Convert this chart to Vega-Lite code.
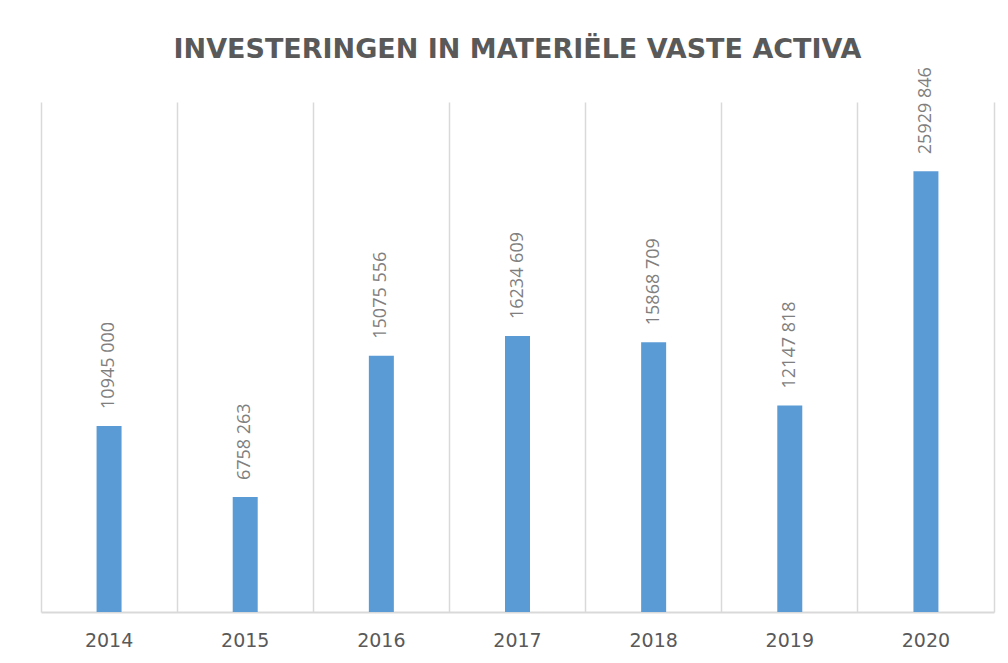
{
  "$schema": "https://vega.github.io/schema/vega-lite/v6.json",
  "width": 953,
  "height": 510,
  "autosize": {"type": "none"},
  "padding": {"left": 41, "top": 102, "right": 14, "bottom": 51},
  "background": "white",
  "title": {
    "text": "INVESTERINGEN IN MATERIËLE VASTE ACTIVA",
    "font": "DejaVu Sans",
    "fontSize": 27,
    "fontWeight": "bold",
    "color": "#595959",
    "anchor": "middle",
    "frame": "group",
    "offset": 3
  },
  "data": {
    "values": [
      {"jaar": "2014", "waarde": 10945000, "label": "10945 000"},
      {"jaar": "2015", "waarde": 6758263, "label": "6758 263"},
      {"jaar": "2016", "waarde": 15075556, "label": "15075 556"},
      {"jaar": "2017", "waarde": 16234609, "label": "16234 609"},
      {"jaar": "2018", "waarde": 15868709, "label": "15868 709"},
      {"jaar": "2019", "waarde": 12147818, "label": "12147 818"},
      {"jaar": "2020", "waarde": 25929846, "label": "25929 846"}
    ]
  },
  "encoding": {
    "x": {
      "field": "jaar",
      "type": "ordinal",
      "scale": {"paddingInner": 0, "paddingOuter": 0},
      "axis": {
        "title": null,
        "labelAngle": 0,
        "grid": true,
        "bandPosition": 0,
        "gridColor": "#d9d9d9",
        "gridWidth": 1.5,
        "domainColor": "#d9d9d9",
        "domainWidth": 2,
        "ticks": false,
        "labelFont": "DejaVu Sans",
        "labelFontSize": 19,
        "labelColor": "#595959",
        "labelPadding": 19
      }
    },
    "y": {
      "field": "waarde",
      "type": "quantitative",
      "scale": {"domain": [0, 30000000]},
      "axis": {
        "orient": "right",
        "title": null,
        "labels": false,
        "ticks": false,
        "grid": false,
        "domain": true,
        "domainColor": "#d9d9d9",
        "domainWidth": 1.5
      }
    }
  },
  "layer": [
    {
      "mark": {"type": "bar", "size": 25, "color": "#5B9BD5"}
    },
    {
      "mark": {
        "type": "text",
        "angle": 270,
        "align": "left",
        "baseline": "middle",
        "dx": 17,
        "font": "Open Sans",
        "fontSize": 18,
        "color": "#7f7f7f"
      },
      "encoding": {"text": {"field": "label"}}
    }
  ],
  "config": {"view": {"stroke": null}}
}
